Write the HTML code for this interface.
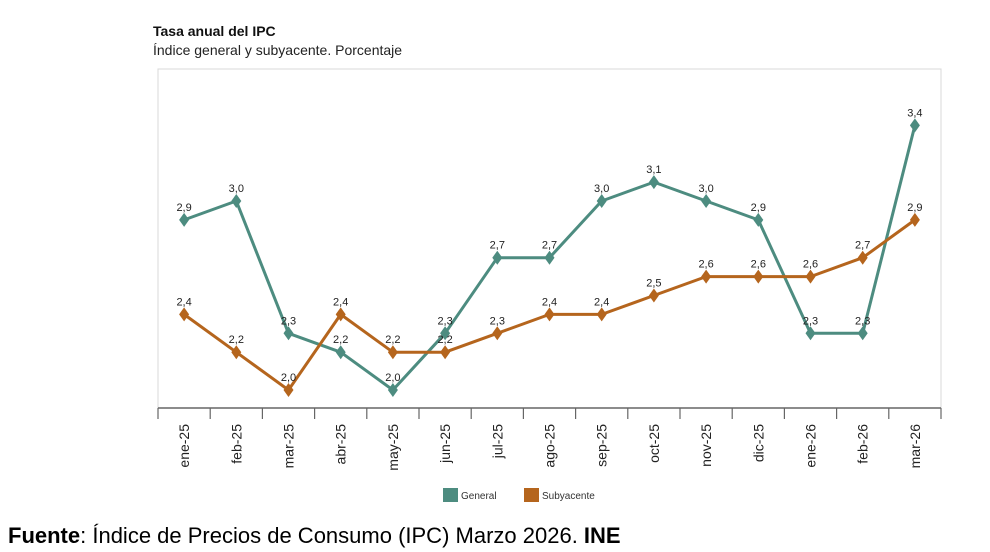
<!DOCTYPE html>
<html><head><meta charset="utf-8">
<style>
body{margin:0;background:#fff;width:990px;height:552px;overflow:hidden;font-family:"Liberation Sans",Arial,sans-serif;}
svg{position:absolute;left:0;top:0}
#src{position:absolute;left:8px;top:523px;font-size:22px;line-height:26px;color:#000;white-space:nowrap}
</style></head>
<body>
<svg id="chart" width="990" height="552"></svg>
<div id="src"><b>Fuente</b>: Índice de Precios de Consumo (IPC) Marzo 2026. <b>INE</b></div>
<script>
const categories=["ene-25","feb-25","mar-25","abr-25","may-25","jun-25","jul-25","ago-25","sep-25","oct-25","nov-25","dic-25","ene-26","feb-26","mar-26"];
const generalValues=[2.9,3.0,2.3,2.2,2.0,2.3,2.7,2.7,3.0,3.1,3.0,2.9,2.3,2.3,3.4];
const subyacenteValues=[2.4,2.2,2.0,2.4,2.2,2.2,2.3,2.4,2.4,2.5,2.6,2.6,2.6,2.7,2.9];
const seriesNames=["General","Subyacente"];

const NS="http://www.w3.org/2000/svg";
const svg=document.getElementById("chart");
function el(t,a,txt){const e=document.createElementNS(NS,t);for(const k in a)e.setAttribute(k,a[k]);if(txt!==undefined)e.textContent=txt;svg.appendChild(e);return e;}
const plotLeft=158,plotRight=941,plotTop=69,axisY=408;
const step=(plotRight-plotLeft)/categories.length;
const xPos=i=>plotLeft+step*(i+0.5);
const yPos=v=>390-(v-2.0)*189;
const colors=["#4d8c80","#b5651d"];

let t=el("text",{x:153,y:36,"font-size":14,"font-weight":"bold",fill:"#111"},"Tasa anual del IPC");


t=el("text",{x:153,y:55,"font-size":14,fill:"#222"},"Índice general y subyacente. Porcentaje");



let f=el("rect",{x:plotLeft,y:plotTop,width:plotRight-plotLeft,height:axisY-plotTop,fill:"none",stroke:"#d8d8d8","stroke-width":1});


let ax=el("line",{x1:plotLeft,x2:plotRight,y1:axisY,y2:axisY,stroke:"#666","stroke-width":1.5});


for(let i=0;i<=categories.length;i++){
  const tk=el("line",{x1:plotLeft+step*i,x2:plotLeft+step*i,y1:axisY,y2:axisY+11,stroke:"#666","stroke-width":1.2});
  
  
}
categories.forEach((c,i)=>{
  const tx=el("text",{x:0,y:0,"font-size":14,fill:"#222","text-anchor":"end",transform:`translate(${xPos(i)+5},${axisY+16}) rotate(-90)`},c);
  
  
});
[generalValues,subyacenteValues].forEach((vals,s)=>{
  const pts=vals.map((v,i)=>xPos(i)+","+yPos(v)).join(" ");
  const pl=el("polyline",{points:pts,fill:"none",stroke:colors[s],"stroke-width":3,"stroke-linejoin":"round"});
  
  
  vals.forEach((v,i)=>{
    const cx=xPos(i),cy=yPos(v);
    const m=el("polygon",{points:`${cx},${cy-7} ${cx+5},${cy} ${cx},${cy+7} ${cx-5},${cy}`,fill:colors[s]});
    
    
    const lb=el("text",{x:cx,y:cy-9,"font-size":11,fill:"#222","text-anchor":"middle"},v.toFixed(1).replace(".",","));
    
    
  });
});
const lg=[[443,461],[524,542]];
seriesNames.forEach((n,s)=>{
  const r=el("rect",{x:lg[s][0],y:488,width:15,height:14,fill:colors[s]});
  
  
  const lt=el("text",{x:lg[s][1],y:499,"font-size":10,fill:"#333"},n);
  
  
});
</script>
</body></html>
